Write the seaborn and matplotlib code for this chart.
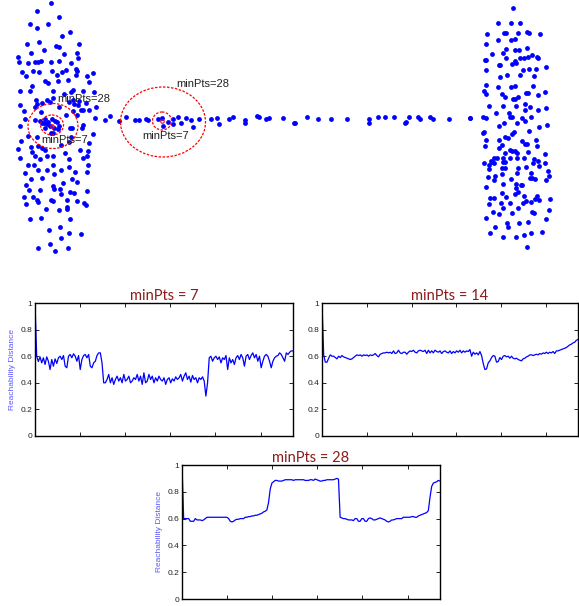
import numpy as np
import pandas as pd
import seaborn as sns
import matplotlib.pyplot as plt
from matplotlib.patches import Ellipse

# ---- top scatter: two dense clusters joined by a thin line of points ----
left_x = [51, 37, 59, 30, 37, 48, 70,
          62, 39, 27, 56, 59, 79, 44, 31, 64, 77, 78, 18,
          59, 19, 28, 38, 41, 51, 35, 71, 76, 77, 66, 62, 52, 39, 33, 22, 26, 93, 87, 76, 57,
          45, 48, 58, 68, 89, 32, 53, 20, 30, 73, 71, 64, 83, 94,
          36, 37, 47, 50, 20, 42, 53, 73, 79, 78, 69, 74, 86, 96,
          24, 41, 35, 59, 81, 83, 89, 73, 77, 66,
          25, 35, 40, 45, 48, 52, 55, 44,
          20, 45, 58, 70, 72, 82, 83, 53, 28, 37, 93, 71,
          21, 31, 38, 42, 45, 61, 69, 80, 89, 18,
          32, 35, 47, 53, 65, 87, 88, 20, 40, 69, 83,
          28, 34, 88, 69, 53, 47, 61, 38, 87, 25, 75, 54,
          31, 42, 72, 77, 63, 26, 53, 54, 29, 40, 60, 87, 70, 74, 61, 24, 33,
          37, 38, 51, 53, 67, 26, 46, 59, 67, 67, 77, 84, 86,
          30, 41, 70, 60, 49, 69, 81, 61, 50, 38, 55, 68,
          42, 47, 54, 50, 57, 59, 51]
left_y = [3, 11, 17, 24, 28, 24, 32,
          36, 42, 44, 46, 47, 44, 50, 53, 54, 53, 58, 57,
          61, 62, 63, 62, 61, 62, 62, 63, 69, 71, 70, 72, 71, 72, 71, 72, 76, 73, 76, 75, 75,
          81, 83, 81, 80, 82, 86, 91, 91, 91, 90, 92, 94, 91, 92,
          100, 104, 100, 102, 105, 103, 98, 100, 101, 105, 102, 104, 103, 107,
          111, 112, 107, 107, 110, 110, 110, 111, 115, 115,
          119, 120, 121, 119, 122, 119, 121, 123,
          126, 128, 129, 128, 128, 128, 125, 133, 136, 137, 134, 137,
          141, 147, 146, 148, 150, 145, 142, 150, 143, 149,
          152, 156, 156, 156, 153, 156, 151, 158, 159, 159, 158,
          165, 165, 165, 167, 165, 170, 170, 170, 172, 173, 172, 174,
          179, 178, 179, 182, 183, 185, 186, 189, 190, 190, 189, 191, 192, 193, 194, 197, 197,
          200, 202, 200, 201, 200, 204, 209, 210, 207, 209, 201, 203, 205,
          219, 218, 219, 227, 230, 233, 234, 238, 244, 248, 251, 248,
          123, 124, 128, 126, 122, 126, 133]

mid_x = [95, 105, 110, 119, 126, 135, 139, 146, 148, 158,
         162, 163, 168, 173, 173, 178, 181, 186, 191, 193,
         199, 211, 217, 219, 229, 233, 245, 245, 257, 259,
         266, 269, 283, 294, 295, 307, 318, 331, 347, 369,
         369, 378, 385, 394, 405, 406, 409, 418, 420, 430,
         433, 449, 470]
mid_y = [118, 120, 116, 121, 117, 120, 120, 119, 120, 119,
         118, 126, 122, 119, 124, 117, 123, 118, 120, 127,
         119, 119, 118, 124, 119, 117, 120, 123, 116, 117,
         119, 118, 118, 123, 123, 117, 119, 119, 119, 119,
         123, 117, 117, 117, 123, 122, 117, 117, 119, 117,
         119, 119, 118]

right_x = [513, 498, 511, 520, 487, 504, 506, 518, 527, 529, 540,
           486, 498, 511, 515, 506, 515, 519, 527, 492, 503, 532, 537, 538,
           485, 486, 506, 515, 520, 524, 528, 499, 500, 512, 516, 546,
           486, 523, 529, 536, 507, 520, 500, 534,
           486, 498, 511, 515, 533, 484, 486, 502, 526, 528, 545, 505, 513, 515, 518, 538,
           489, 503, 516, 525, 530, 525, 538, 546, 496, 509, 510, 512, 470, 483, 486, 522,
           525, 531, 504, 517, 499, 539, 547,
           484, 483, 514, 512, 505, 508, 529, 486, 499, 522, 536, 525, 527, 502, 485, 537, 499,
           510, 512, 515, 517, 505, 528, 545, 494, 497, 503, 510, 517, 524, 534, 491, 492,
           503, 505, 538, 484, 494, 533, 489, 526, 545, 518, 539, 489, 502, 505, 517, 502,
           531, 548, 495, 488, 530, 532, 535, 549, 494, 511, 546,
           521, 522, 503, 516, 486, 516, 518, 502, 515, 506, 524, 537, 490, 494, 535, 550,
           526, 531, 539, 501, 510, 489, 523, 503, 518, 549,
           493, 499, 512, 532, 534, 486, 546, 507, 519, 528, 495, 508, 490, 503, 516, 524,
           531, 542, 527]
right_y = [8, 23, 23, 23, 34, 33, 33, 33, 32, 33, 34,
           44, 40, 40, 39, 49, 50, 50, 48, 54, 53, 55, 57, 58,
           60, 60, 58, 61, 58, 58, 57, 65, 65, 64, 63, 67,
           70, 70, 69, 69, 75, 75, 77, 76,
           85, 87, 87, 86, 86, 91, 94, 94, 93, 93, 92, 97, 99, 99, 97, 95,
           106, 106, 106, 104, 107, 110, 110, 108, 113, 113, 117, 117, 118, 117, 118, 118,
           121, 117, 123, 123, 126, 127, 125,
           132, 133, 132, 134, 137, 138, 131, 140, 140, 141, 140, 144, 144, 145, 146, 146, 148,
           150, 151, 151, 153, 153, 152, 154, 158, 158, 158, 158, 158, 158, 159, 161, 162,
           162, 162, 161, 163, 163, 163, 165, 167, 163, 168, 166, 169, 168, 168, 173, 174,
           173, 171, 176, 177, 178, 178, 179, 176, 180, 179, 180,
           185, 185, 184, 184, 187, 188, 192, 193, 194, 197, 196, 196, 198, 198, 199, 199,
           201, 202, 200, 203, 203, 204, 203, 208, 208, 210,
           212, 214, 213, 212, 213, 218, 219, 223, 223, 222, 227, 227, 233, 237, 237, 235,
           233, 232, 247]

# core points and their neighbourhood rings (minPts=7 inner, minPts=28 outer)
core_x = [52, 162]
core_y = [126, 121]
ring_cx = [52, 53, 162, 163]
ring_cy = [125, 126, 121, 122]
ring_w = [23, 50, 19, 85]
ring_h = [20, 45, 18, 70]

# ---- reachability plots ----
reach7 = [1.0, 0.60, 0.56, 0.595, 0.55, 0.588, 0.538, 0.595, 0.562, 0.50,
          0.575, 0.525, 0.58, 0.545, 0.588, 0.60, 0.575, 0.605, 0.525, 0.513,
          0.60, 0.613, 0.588, 0.618, 0.60, 0.562, 0.605, 0.50, 0.575, 0.605,
          0.613, 0.588, 0.613, 0.525, 0.513, 0.55, 0.562, 0.605, 0.625, 0.625,
          0.55, 0.40, 0.40, 0.425, 0.463, 0.40, 0.438, 0.388, 0.425, 0.45,
          0.413, 0.438, 0.40, 0.463, 0.413, 0.425, 0.45, 0.40, 0.413, 0.438,
          0.425, 0.463, 0.413, 0.45, 0.388, 0.475, 0.40, 0.413, 0.463, 0.425,
          0.45, 0.40, 0.438, 0.413, 0.45, 0.425, 0.413, 0.438, 0.388, 0.425,
          0.438, 0.40, 0.43, 0.413, 0.445, 0.425, 0.438, 0.463, 0.413, 0.45,
          0.475, 0.425, 0.45, 0.405, 0.455, 0.425, 0.438, 0.40, 0.438, 0.425,
          0.445, 0.413, 0.30, 0.40, 0.588, 0.60, 0.562, 0.588, 0.60, 0.575,
          0.595, 0.55, 0.588, 0.575, 0.605, 0.50, 0.588, 0.55, 0.575, 0.538,
          0.588, 0.605, 0.575, 0.613, 0.588, 0.525, 0.60, 0.613, 0.575, 0.605,
          0.625, 0.588, 0.613, 0.562, 0.60, 0.513, 0.562, 0.60, 0.613, 0.60,
          0.562, 0.513, 0.562, 0.588, 0.60, 0.605, 0.625, 0.613, 0.588, 0.562,
          0.625, 0.613, 0.63, 0.64, 0.64]
reach14 = [1.0, 0.61, 0.555, 0.555, 0.585, 0.61, 0.6, 0.6, 0.59, 0.58,
           0.6, 0.59, 0.605, 0.595, 0.59, 0.585, 0.58, 0.575, 0.58, 0.59,
           0.6, 0.61, 0.605, 0.61, 0.6, 0.61, 0.605, 0.61, 0.6, 0.61,
           0.605, 0.61, 0.62, 0.605, 0.595, 0.615, 0.62, 0.625, 0.625, 0.63,
           0.625, 0.63, 0.62, 0.64, 0.62, 0.625, 0.645, 0.625, 0.62, 0.63,
           0.63, 0.615, 0.63, 0.64, 0.635, 0.645, 0.63, 0.625, 0.64, 0.645,
           0.64, 0.635, 0.645, 0.62, 0.645, 0.625, 0.64, 0.625, 0.645, 0.635,
           0.63, 0.64, 0.62, 0.635, 0.64, 0.63, 0.625, 0.64, 0.62, 0.635,
           0.625, 0.64, 0.63, 0.645, 0.625, 0.64, 0.63, 0.64, 0.635, 0.65,
           0.6, 0.63, 0.615, 0.625, 0.61, 0.635, 0.605, 0.545, 0.5, 0.505,
           0.55, 0.565, 0.59, 0.605, 0.6, 0.555, 0.56, 0.59, 0.575, 0.6,
           0.605, 0.595, 0.6, 0.585, 0.6, 0.585, 0.58, 0.585, 0.575, 0.57,
           0.565, 0.58, 0.585, 0.595, 0.6, 0.61, 0.61, 0.605, 0.61, 0.615,
           0.61, 0.62, 0.615, 0.625, 0.62, 0.63, 0.62, 0.63, 0.625, 0.635,
           0.62, 0.64, 0.64, 0.645, 0.65, 0.655, 0.66, 0.665, 0.675, 0.685,
           0.69, 0.70, 0.705, 0.72, 0.725]
reach28 = [1.0, 0.6, 0.6, 0.6, 0.6, 0.58, 0.58, 0.58, 0.6, 0.59,
           0.59, 0.59, 0.585, 0.59, 0.6, 0.61, 0.61, 0.61, 0.61, 0.61,
           0.61, 0.61, 0.61, 0.61, 0.61, 0.61, 0.61, 0.61, 0.6, 0.58,
           0.575, 0.58, 0.59, 0.595, 0.595, 0.6, 0.6, 0.6, 0.61, 0.61,
           0.615, 0.615, 0.62, 0.62, 0.625, 0.625, 0.63, 0.635, 0.64, 0.65,
           0.655, 0.665, 0.72, 0.82, 0.865, 0.875, 0.885, 0.885, 0.88, 0.88,
           0.88, 0.885, 0.89, 0.89, 0.89, 0.89, 0.89, 0.885, 0.89, 0.89,
           0.89, 0.89, 0.89, 0.89, 0.885, 0.885, 0.885, 0.89, 0.89, 0.885,
           0.895, 0.89, 0.885, 0.88, 0.88, 0.885, 0.885, 0.89, 0.89, 0.89,
           0.89, 0.89, 0.895, 0.9, 0.895, 0.61, 0.605, 0.6, 0.6, 0.595,
           0.59, 0.59, 0.59, 0.585, 0.6, 0.6, 0.58, 0.58, 0.6, 0.6,
           0.58, 0.58, 0.6, 0.605, 0.6, 0.59, 0.59, 0.595, 0.6, 0.605,
           0.6, 0.595, 0.59, 0.58, 0.575, 0.58, 0.59, 0.59, 0.595, 0.6,
           0.6, 0.6, 0.6, 0.61, 0.61, 0.61, 0.61, 0.61, 0.615, 0.615,
           0.61, 0.61, 0.62, 0.625, 0.63, 0.635, 0.64, 0.645, 0.66, 0.76,
           0.84, 0.865, 0.87, 0.875, 0.885, 0.88]

ytick_vals = [0, 0.2, 0.4, 0.6, 0.8, 1]
ytick_labels = ["0", "0.2", "0.4", "0.6", "0.8", "1"]
xtick_vals = [100, 200, 300, 400, 500]
n_order = 572

sns.set_style("ticks")
plt.rcParams["font.family"] = ["Liberation Sans", "DejaVu Sans"]

W, H = 579, 606
fig = plt.figure(figsize=(W / 100, H / 100), dpi=100)


def px_axes(left, top, right, bottom):
    return fig.add_axes([left / W, 1 - bottom / H, (right - left) / W, (bottom - top) / H])


# top panel
pts = pd.DataFrame({"x": left_x + mid_x + right_x, "y": left_y + mid_y + right_y})
ax0 = px_axes(0, 0, W, 262)
sns.scatterplot(data=pts, x="x", y="y", ax=ax0, color="#0000ff", s=12,
                linewidth=0, legend=False)
for cx, cy, w, h in zip(ring_cx, ring_cy, ring_w, ring_h):
    ax0.add_patch(Ellipse((cx, cy), w, h, fill=False, edgecolor="red",
                          linestyle=(0, (2, 1.2)), linewidth=0.9))
ax0.plot(core_x, core_y, "o", mfc="none", mec="red", ms=2.5, mew=0.8)
ax0.text(57, 99, "minPts=28", fontsize=8, va="center", color="#222222")
ax0.text(41, 140, "minPts=7", fontsize=8, va="center", color="#222222")
ax0.text(176, 84, "minPts=28", fontsize=8, va="center", color="#222222")
ax0.text(142, 136, "minPts=7", fontsize=8, va="center", color="#222222")
ax0.set_xlim(0, W)
ax0.set_ylim(262, 0)
ax0.axis("off")

# reachability panels
panels = [
    (reach7, "minPts = 7", (35, 303, 293, 436), True),
    (reach14, "minPts = 14", (322, 303, 578, 436), False),
    (reach28, "minPts = 28", (182, 465, 440, 599), True),
]
for vals, title, box, show_label in panels:
    ax = px_axes(*box)
    df = pd.DataFrame({"order": np.linspace(0, n_order, len(vals)), "reach": vals})
    sns.lineplot(data=df, x="order", y="reach", ax=ax, color="#0000ff", linewidth=0.9)
    ax.set_xlim(0, n_order)
    ax.set_ylim(0, 1)
    ax.set_xticks(xtick_vals)
    ax.set_xticklabels([])
    ax.set_yticks(ytick_vals)
    ax.set_yticklabels(ytick_labels)
    ax.tick_params(direction="in", top=True, right=True, length=3, width=0.7,
                   labelsize=6, pad=2, colors="#222222")
    for sp in ax.spines.values():
        sp.set_linewidth(1.0)
        sp.set_color("black")
    ax.set_xlabel("")
    if show_label:
        ax.set_ylabel("Reachability Distance", color="#5a5aff", fontsize=6, labelpad=3)
    else:
        ax.set_ylabel("")
    ax.set_title(title, color="#8b1a1a", fontsize=10.5, family="Lato", pad=2)

fig.savefig("out.png", dpi=100)
